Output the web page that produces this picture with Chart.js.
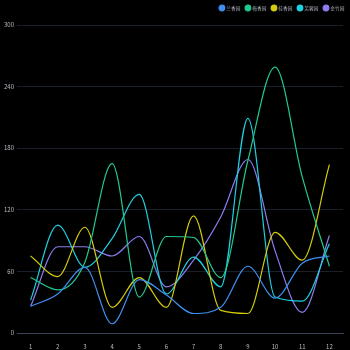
<!DOCTYPE html>
<html>
<head>
<meta charset="utf-8">
<script src="https://cdn.jsdelivr.net/npm/chart.js@4"></script>
<style>
  html, body { margin: 0; padding: 0; background: #000; }
  #wrap { width: 350px; height: 350px; }
</style>
</head>
<body>
<div id="wrap"><canvas id="c" width="350" height="350"></canvas></div>
<script>
// ===============================
// DATA
// ===============================
const months = ["1","2","3","4","5","6","7","8","9","10","11","12"];
const names = ["兰香园","梅香园","桂香园","芙蓉园","金竹园"];

const blueVals   = [26, 38, 64, 9, 52, 37, 19, 25, 65, 34, 68, 75];
const greenVals  = [54, 42, 69, 165, 35, 94, 93, 54, 168, 259, 152, 65];
const yellowVals = [75, 55, 103, 25, 54, 25, 114, 22, 19, 98, 71, 164];
const cyanVals   = [32, 105, 64, 92, 135, 38, 74, 45, 209, 35, 31, 87];
const purpleVals = [26, 84, 84, 75, 94, 45, 71, 113, 169, 80, 20, 95];

const yTicks = [0, 60, 120, 180, 240, 300];

const colors = ["#3f8ff2", "#22c98f", "#d4cb0c", "#1ed0e0", "#8c7df2"];
const series = [blueVals, greenVals, yellowVals, cyanVals, purpleVals];

// ===============================
// CHART
// ===============================
const font = { family: "Noto Sans CJK SC, Noto Sans, sans-serif", size: 6 };

// legend box is taller than its items, leave room above the plot
const legendSpace = {
  id: "legendSpace",
  beforeLayout(chart){
    const lg = chart.legend;
    if(lg && !lg._patched){
      const fit = lg.fit;
      lg.fit = function(){ fit.call(this); this.height = 25; };
      lg._patched = true;
    }
  }
};

new Chart(document.getElementById("c"), {
  type: "line",
  data: {
    labels: months,
    datasets: series.map((vals, i) => ({
      label: names[i],
      data: vals,
      borderColor: colors[i],
      backgroundColor: colors[i],
      borderWidth: 1.2,
      pointRadius: 0,
      cubicInterpolationMode: "monotone",
      fill: false
    }))
  },
  plugins: [legendSpace],
  options: {
    responsive: false,
    animation: false,
    layout: { padding: { left: 2, right: 0, top: 0, bottom: 0 } },
    plugins: {
      tooltip: { enabled: false },
      legend: {
        align: "end",
        labels: {
          color: "#a8acb6",
          font: { family: font.family, size: 4.7 },
          usePointStyle: true,
          pointStyle: "circle",
          boxWidth: 4,
          boxHeight: 4,
          padding: 5.6
        }
      }
    },
    scales: {
      x: {
        offset: true,
        grid: { display: false },
        border: { color: "#3a4454" },
        afterFit: s => { s.height = 17; },
        ticks: { color: "#b8bcc6", font: font, padding: 2 }
      },
      y: {
        min: 0,
        max: 300,
        afterBuildTicks: s => { s.ticks = yTicks.map(v => ({ value: v })); },
        afterFit: s => { s.width = 15; },
        grid: { color: "#1a2029", drawTicks: false },
        border: { display: false },
        ticks: { color: "#b8bcc6", font: font, padding: 3 }
      },
      // empty strip on the right so the plot stops short of the legend edge
      yr: {
        position: "right",
        grid: { display: false },
        border: { display: false },
        ticks: { display: false },
        afterFit: s => { s.width = 7; }
      }
    }
  }
});
</script>
</body>
</html>
